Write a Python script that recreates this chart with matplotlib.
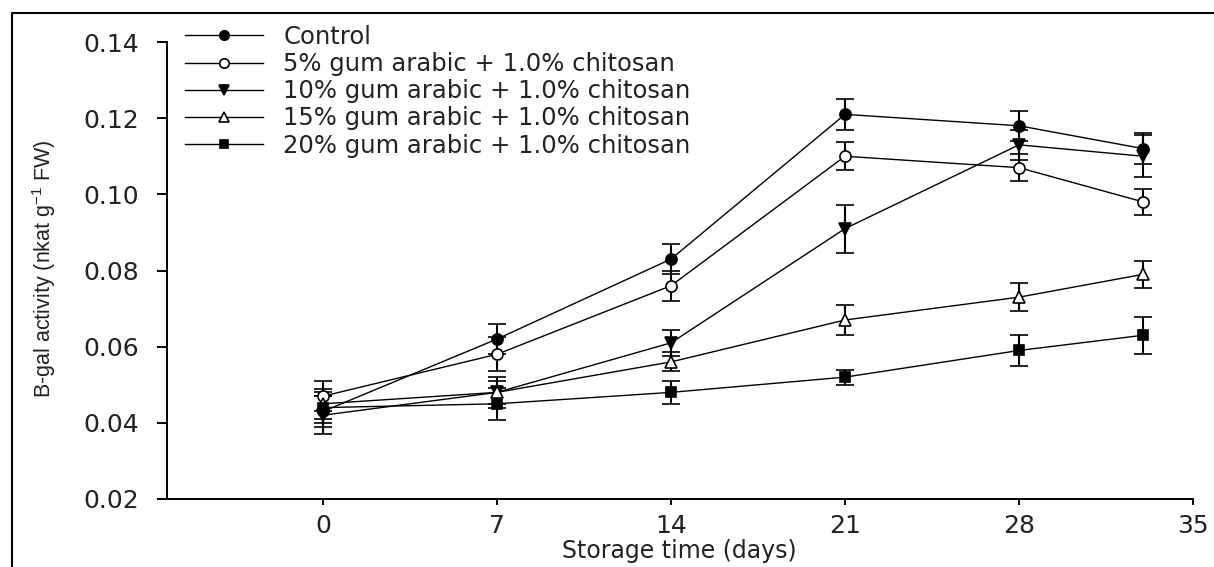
import matplotlib
matplotlib.use('Agg')
import matplotlib.pyplot as plt
from matplotlib.lines import Line2D

plt.rcParams['font.family'] = ['DejaVu Sans']
plt.rcParams['mathtext.default'] = 'regular'

# ------------------------------------------------------------
# data
# ------------------------------------------------------------
days = [0, 7, 14, 21, 28, 33]

control = [0.043, 0.062, 0.083, 0.121, 0.118, 0.112]
control_err = [0.004, 0.004, 0.004, 0.004, 0.004, 0.004]

gum5 = [0.047, 0.058, 0.076, 0.110, 0.107, 0.098]
gum5_err = [0.004, 0.0045, 0.004, 0.0037, 0.0035, 0.0035]

gum10 = [0.042, 0.048, 0.061, 0.091, 0.113, 0.110]
gum10_err = [0.005, 0.004, 0.0035, 0.0063, 0.004, 0.0055]

gum15 = [0.045, 0.048, 0.056, 0.067, 0.073, 0.079]
gum15_err = [0.004, 0.003, 0.0025, 0.004, 0.0037, 0.0035]

gum20 = [0.044, 0.045, 0.048, 0.052, 0.059, 0.063]
gum20_err = [0.004, 0.0042, 0.003, 0.002, 0.004, 0.0049]

labels = ['Control',
          '5% gum arabic + 1.0% chitosan',
          '10% gum arabic + 1.0% chitosan',
          '15% gum arabic + 1.0% chitosan',
          '20% gum arabic + 1.0% chitosan']

x_ticks = [0, 7, 14, 21, 28, 35]
y_ticks = [0.02, 0.04, 0.06, 0.08, 0.10, 0.12, 0.14]
y_tick_labels = ['0.02', '0.04', '0.06', '0.08', '0.10', '0.12', '0.14']

# ------------------------------------------------------------
# plot
# ------------------------------------------------------------
W, H = 1214, 567
fig = plt.figure(figsize=(W / 100, H / 100), dpi=100)
ax = fig.add_axes([158 / W, 1 - 499 / H, (1193 - 158) / W, (499 - 42) / H])

styles = [('o', 'black', 8),
          ('o', 'white', 8),
          ('v', 'black', 9),
          ('^', 'white', 9),
          ('s', 'black', 7.5)]
all_vals = [control, gum5, gum10, gum15, gum20]
all_errs = [control_err, gum5_err, gum10_err, gum15_err, gum20_err]

handles = []
for vals, errs, (mk, face, ms) in zip(all_vals, all_errs, styles):
    cont = ax.errorbar(days, vals, yerr=errs, fmt='-', marker=mk, color='black',
                       mfc=face, mec='black', ms=ms, mew=1.2, lw=1.0,
                       elinewidth=1.5, capsize=6.5, capthick=1.6)
    handles.append(cont[0])

ax.set_xlim(-6.64, 35)
ax.set_ylim(0.02, 0.14)
ax.set_xticks(x_ticks)
ax.set_yticks(y_ticks)
ax.set_yticklabels(y_tick_labels)

ax.spines['top'].set_visible(False)
ax.spines['right'].set_visible(False)
ax.spines['left'].set_position(('data', -6.27))
for s in ['left', 'bottom']:
    ax.spines[s].set_linewidth(1.4)

ax.tick_params(axis='y', direction='out', length=7, width=1.4, pad=13,
               labelsize=18, labelcolor='#222222')
ax.tick_params(axis='x', direction='out', length=4, width=1.4, pad=7,
               labelsize=18, labelcolor='#222222')

ax.set_xlabel('Storage time (days)', fontsize=17, color='#222222')
ax.xaxis.set_label_coords(0.504, -0.088)
ax.set_ylabel('B-gal activity (nkat g$^{-1}$ FW)', fontsize=15.5, color='#222222',
              family=['Liberation Sans Narrow', 'Liberation Sans'])
ax.yaxis.set_label_coords(-0.0966, 0.505)

ax.legend(handles, labels, loc='upper left',
          bbox_to_anchor=(185 / W, 1 - 25 / H), bbox_transform=fig.transFigure,
          frameon=False, fontsize=17.5, borderpad=0, borderaxespad=0,
          labelspacing=0.13, handlelength=3.2, handletextpad=0.85, numpoints=1,
          markerscale=0.85, labelcolor='#222222')

# frame round the whole picture (left and top edges visible)
fig.add_artist(Line2D([12 / W, 12 / W], [0, 1 - 13 / H], transform=fig.transFigure,
                      color='black', lw=1.5))
fig.add_artist(Line2D([12 / W, 1], [1 - 13 / H, 1 - 13 / H], transform=fig.transFigure,
                      color='black', lw=1.5))

fig.savefig('out.png', dpi=100)
